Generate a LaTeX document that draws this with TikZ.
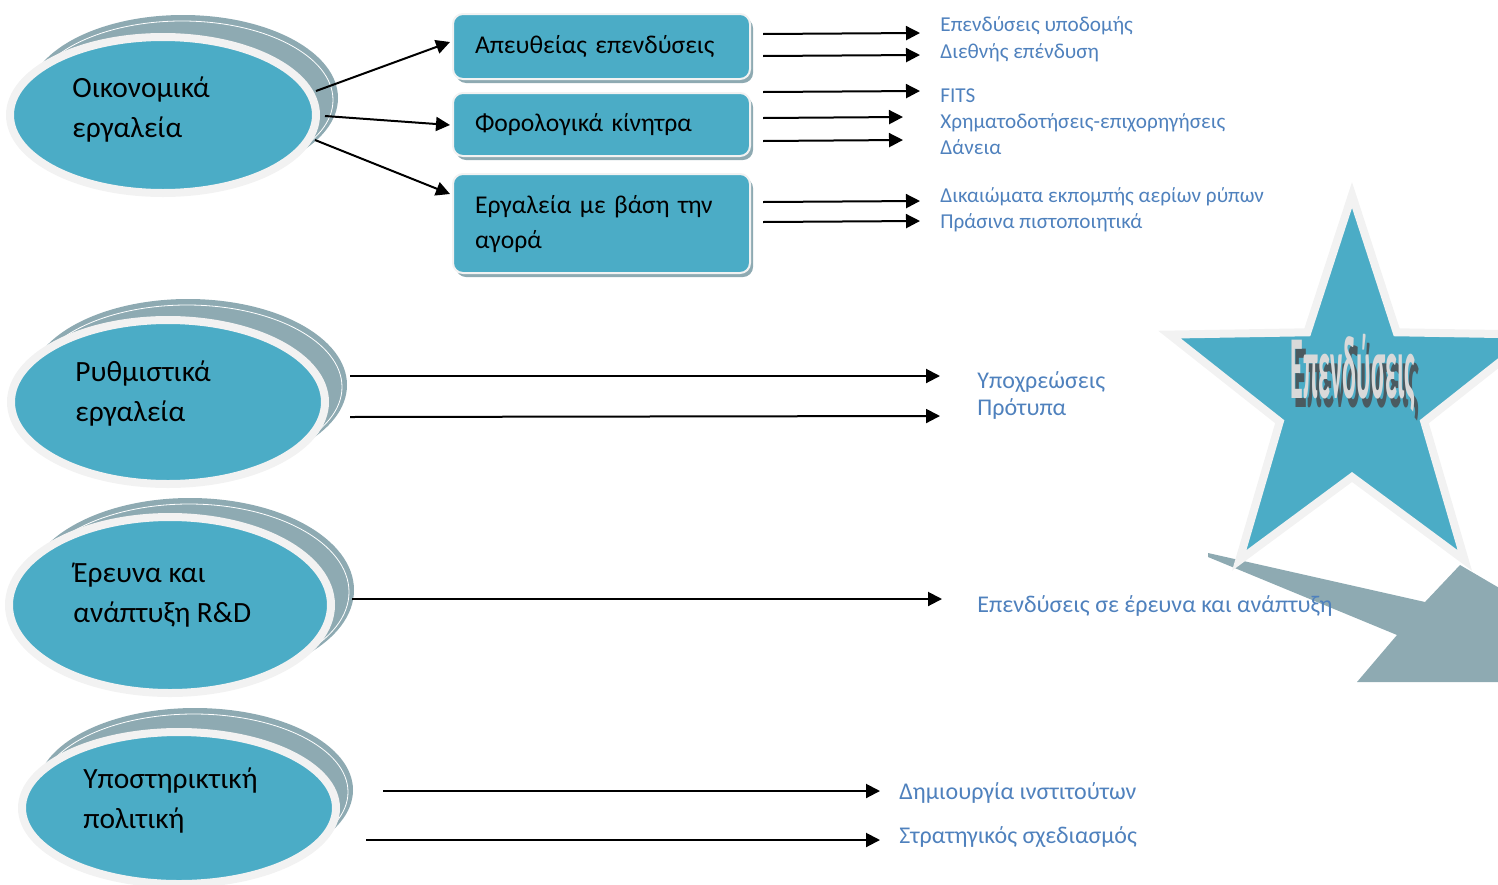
\documentclass[tikz,border=0pt]{standalone}
\usepackage{fontspec}
\setmainfont{Carlito}
\usetikzlibrary{arrows.meta,shapes.geometric,shadows,calc}

\definecolor{toolblue}{RGB}{75,172,198}
\definecolor{backgray}{RGB}{142,170,178}
\definecolor{rimwhite}{RGB}{242,242,242}
\definecolor{itemblue}{RGB}{79,129,189}
\definecolor{artdark}{RGB}{74,90,96}

\begin{document}
\begin{tikzpicture}[x=0.5pt,y=-0.5pt,
			arr/.style={-{Triangle[length=7pt,width=7pt]},line width=1pt},
			back node/.style={ellipse,fill=backgray,inner sep=0pt},
			rim node/.style={ellipse,draw=white,line width=0.4pt,inner sep=0pt},
			tool node/.style={ellipse,fill=toolblue,draw=rimwhite,line width=4pt,inner sep=0pt},
			tool text/.style={anchor=west,align=left,inner sep=0pt,font=\fontsize{14.7}{20}\selectfont},
			box node/.style={rectangle,rounded corners=5pt,fill=toolblue,draw=rimwhite,line width=1pt,
				drop shadow={shadow xshift=1.5pt,shadow yshift=-2pt,fill=backgray,opacity=1},
				anchor=north west,text width=126.5pt,align=left,inner xsep=11pt,inner ysep=0pt,
				font=\fontsize{12.8}{17.5}\selectfont},
			item node/.style={anchor=base west,inner sep=0pt,text=itemblue,font=\fontsize{10.6}{14}\selectfont},
			big item/.style={item node,font=\fontsize{12}{14}\selectfont},
			star text/.style={anchor=base,inner sep=0pt,font=\bfseries\fontsize{45}{45}\selectfont,xscale=0.29,transform shape}
			]
			
			\useasboundingbox (0,0) rectangle (1498,884);
			\clip (0,0) rectangle (1498,884);
			
			% ellipses
			\node[back node,minimum width=155pt,minimum height=83pt] (ecoback) at (183,98) {};
			\node[rim node,minimum width=151pt,minimum height=79pt] (ecorim) at (182,100) {};
			\node[tool node,minimum width=153pt,minimum height=78pt] (eco) at (163,115) {};
			\node[tool text] (ecotxt) at (72,109) {\strut Οικονομικά\\\strut εργαλεία};
			
			\node[back node,minimum width=159pt,minimum height=86pt] (regback) at (188,385) {};
			\node[rim node,minimum width=155pt,minimum height=82pt] (regrim) at (187,387) {};
			\node[tool node,minimum width=157pt,minimum height=82pt] (reg) at (168,402) {};
			\node[tool text] (regtxt) at (75,393.5) {\strut Ρυθμιστικά\\\strut εργαλεία};
			
			\node[back node,minimum width=164pt,minimum height=92pt] (rdback) at (190,590) {};
			\node[rim node,minimum width=160pt,minimum height=88pt] (rdrim) at (189,592) {};
			\node[tool node,minimum width=161pt,minimum height=88pt] (rd) at (170,605) {};
			\node[tool text] (rdtxt) at (73,594) {\strut Έρευνα και\\\strut ανάπτυξη R\&D};
			
			\node[back node,minimum width=158pt,minimum height=82pt] (supback) at (195,790) {};
			\node[rim node,minimum width=154pt,minimum height=78pt] (suprim) at (194,792) {};
			\node[tool node,minimum width=157pt,minimum height=76pt] (sup) at (179,808) {};
			\node[tool text] (suptxt) at (83,800) {\strut Υποστηρικτική\\\strut πολιτική};
			
			% boxes
			\node[box node,minimum height=32.5pt] (direct) at (452,13) {\strut Απευθείας επενδύσεις};
			\node[box node,minimum height=31.5pt] (tax) at (452,92) {\strut Φορολογικά κίνητρα};
			\node[box node,minimum height=49.5pt] (market) at (452,173) {\strut Εργαλεία με βάση την\\\strut αγορά};
			
			\draw[arr] ($(eco.east)+(-4,-24)$) -- ($(direct.west)+(-2,-4.5)$);
			\draw[arr] ($(eco.east)+(5,1)$) -- ($(tax.west)+(-2,0.5)$);
			\draw[arr] ($(eco.east)+(-5,25)$) -- ($(market.west)+(-2,-29.5)$);
			
			% star
			\fill[backgray] (1208,553) -- (1425,602) -- (1460,565) -- (1530,606) -- (1530,682)
				-- (1357,682) -- (1397,635) -- (1208,557) -- cycle;
			\begin{scope}[shift={(1352,397)},xscale=0.95]
				\draw[fill=toolblue,draw=rimwhite,line width=4pt] (270:202)
					\foreach \k in {1,...,9} { -- ({270+36*\k}:{isodd(\k) ? 80 : 202}) } -- cycle;
			\end{scope}
			\node[star text,text=artdark] (invshadow) at (1357,407) {Επενδύσεις};
			\node[star text,text=gray!30] (inv) at (1353,398) {Επενδύσεις};
			
			% measures
			\node[item node] (infra) at (940,31) {Επενδύσεις υποδομής};
			\node[item node] (intl) at (940,58) {Διεθνής επένδυση};
			\node[item node] (fits) at (940,102) {FITS};
			\node[item node] (grants) at (940,128) {Χρηματοδοτήσεις-επιχορηγήσεις};
			\node[item node] (loans) at (940,154) {Δάνεια};
			\node[item node] (emis) at (940,202) {Δικαιώματα εκπομπής αερίων ρύπων};
			\node[item node] (green) at (940,228) {Πράσινα πιστοποιητικά};
			
			\node[big item] (oblig) at (977,388) {Υποχρεώσεις};
			\node[big item] (std) at (977,415) {Πρότυπα};
			\node[big item] (rdinv) at (977,612) {Επενδύσεις σε έρευνα και ανάπτυξη};
			\node[big item] (inst) at (899,799) {Δημιουργία ινστιτούτων};
			\node[big item] (strat) at (899,843) {Στρατηγικός σχεδιασμός};
			
			\draw[arr] ($(direct.east)+(12,-12.5)$) -- ($(infra.base west)+(-20,2)$);
			\draw[arr] ($(direct.east)+(12,9.5)$) -- ($(intl.base west)+(-20,-3)$);
			\draw[arr] ($(tax.east)+(12,-32.5)$) -- ($(fits.base west)+(-20,-11)$);
			\draw[arr] ($(tax.east)+(12,-6.5)$) -- ($(grants.base west)+(-37,-11)$);
			\draw[arr] ($(tax.east)+(12,16.5)$) -- ($(loans.base west)+(-37,-14)$);
			\draw[arr] ($(market.east)+(12,-21.5)$) -- ($(emis.base west)+(-20,-1)$);
			\draw[arr] ($(market.east)+(12,-1.5)$) -- ($(green.base west)+(-20,-7)$);
			
			\draw[arr] ($(reg.east)+(21,-26)$) -- ($(oblig.base west)+(-37,-12)$);
			\draw[arr] ($(reg.east)+(21,15)$) -- ($(std.base west)+(-37,1)$);
			\draw[arr] ($(rd.east)+(17,-6)$) -- ($(rdinv.base west)+(-35,-13)$);
			\draw[arr] ($(sup.east)+(43,-17)$) -- ($(inst.base west)+(-19,-8)$);
			\draw[arr] ($(sup.east)+(26,32)$) -- ($(strat.base west)+(-19,-3)$);
			\end{tikzpicture}
\end{document}
